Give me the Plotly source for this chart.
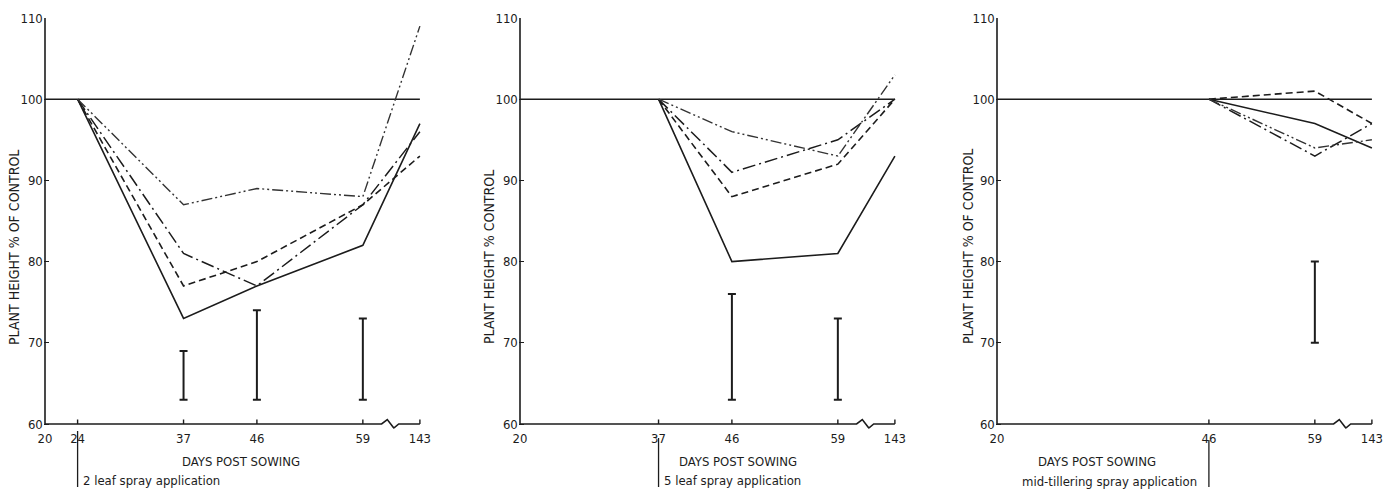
import plotly.graph_objects as go

# ---------------- data ----------------
# x positions: days 20..59 on a linear scale; "143" is drawn after an axis break
BREAK_POS = 66          # axis position used for day 143 (after the break)
tick_days_1 = [20, 24, 37, 46, 59, 143]
tick_days_2 = [20, 37, 46, 59, 143]
tick_days_3 = [20, 46, 59, 143]

control_days = [20, 143]
control_vals = [100, 100]

# Panel 1: 2 leaf spray application (day 24)
days_1 = [24, 37, 46, 59, 143]
p1_solid = [100, 73, 77, 82, 97]
p1_dash = [100, 77, 80, 87, 93]
p1_dashdot = [100, 81, 77, 87, 96]
p1_dashdotdot = [100, 87, 89, 88, 109]
lsd1_days = [37, 46, 59]
lsd1_low = [63, 63, 63]
lsd1_high = [69, 74, 73]

# Panel 2: 5 leaf spray application (day 37)
days_2 = [37, 46, 59, 143]
p2_solid = [100, 80, 81, 93]
p2_dash = [100, 88, 92, 100]
p2_dashdot = [100, 91, 95, 100]
p2_dashdotdot = [100, 96, 93, 103]
lsd2_days = [46, 59]
lsd2_low = [63, 63]
lsd2_high = [76, 73]

# Panel 3: mid-tillering spray application (day 46)
days_3 = [46, 59, 143]
p3_solid = [100, 97, 94]
p3_dash = [100, 101, 97]
p3_dashdot = [100, 93, 97]
p3_dashdotdot = [100, 94, 95]
lsd3_days = [59]
lsd3_low = [70]
lsd3_high = [80]

y_ticks = [60, 70, 80, 90, 100, 110]

spray_day = [24, 37, 46]
spray_text = ["2 leaf spray application", "5 leaf spray application",
              "mid-tillering spray application"]
y_titles = ["PLANT HEIGHT % OF CONTROL", "PLANT HEIGHT % CONTROL",
            "PLANT HEIGHT % OF CONTROL"]
x_title = "DAYS POST SOWING"


def pos(d):
    return BREAK_POS if d == 143 else d


def posl(lst):
    return [pos(d) for d in lst]


# ---------------- styling ----------------
INK = "#1c1c1c"
FONT = "DejaVu Sans Condensed, DejaVu Sans, Liberation Sans, sans-serif"
W, H = 1395, 489
STYLES = {
    "solid": dict(dash="solid", width=1.6, color=INK),
    "dash": dict(dash="7px,4px", width=1.6, color=INK),
    "dashdot": dict(dash="13px,4px,2px,4px", width=1.5, color=INK),
    "dashdotdot": dict(dash="11px,3px,2px,3px,2px,3px", width=1.4, color="#333333"),
}

# pixel geometry
px_per_day = 8.15
y_top_px, y60_px = 18, 424
px_per_unit = (y60_px - y_top_px) / 50.0
Y_MIN = 59.4
X_MIN, X_MAX = 19.85, 66.2
y_bottom_px = y60_px + (60 - Y_MIN) * px_per_unit
ydom = [(H - y_bottom_px) / H, (H - y_top_px) / H]
x20_px = [45, 520, 997]

fig = go.Figure()
panels = [
    (days_1, [p1_solid, p1_dash, p1_dashdot, p1_dashdotdot], lsd1_days, lsd1_low, lsd1_high, tick_days_1),
    (days_2, [p2_solid, p2_dash, p2_dashdot, p2_dashdotdot], lsd2_days, lsd2_low, lsd2_high, tick_days_2),
    (days_3, [p3_solid, p3_dash, p3_dashdot, p3_dashdotdot], lsd3_days, lsd3_low, lsd3_high, tick_days_3),
]
style_keys = ["solid", "dash", "dashdot", "dashdotdot"]

for i, (days, series, ldays, llow, lhigh, tdays) in enumerate(panels):
    n = "" if i == 0 else str(i + 1)
    xa, ya = "x" + n, "y" + n
    # axis frame (left axis line, bottom axis with break zigzag)
    fig.add_trace(go.Scatter(x=[20, 20], y=[60, 110], mode="lines",
                             line=dict(color=INK, width=1.6), xaxis=xa, yaxis=ya,
                             showlegend=False, hoverinfo="skip"))
    zz_x = [20, 61.3, 62.0, 62.8, 63.4, BREAK_POS]
    zz_y = [60, 60, 60.55, 59.5, 60, 60]
    fig.add_trace(go.Scatter(x=zz_x, y=zz_y, mode="lines",
                             line=dict(color=INK, width=1.6), xaxis=xa, yaxis=ya,
                             showlegend=False, hoverinfo="skip"))
    # x ticks pointing up
    tx, ty = [], []
    for d in tdays[1:]:
        tx += [pos(d), pos(d), None]
        ty += [60, 60.55, None]
    fig.add_trace(go.Scatter(x=tx, y=ty, mode="lines", line=dict(color=INK, width=1.4),
                             xaxis=xa, yaxis=ya, showlegend=False, hoverinfo="skip"))
    # control line
    fig.add_trace(go.Scatter(x=posl(control_days), y=control_vals, mode="lines",
                             line=dict(color=INK, width=1.6), xaxis=xa, yaxis=ya,
                             showlegend=False))
    # treatment series
    for key, vals in zip(style_keys, series):
        fig.add_trace(go.Scatter(x=posl(days), y=vals, mode="lines",
                                 line=STYLES[key], xaxis=xa, yaxis=ya, showlegend=False))
    # LSD bars
    mid = [(a + b) / 2 for a, b in zip(llow, lhigh)]
    half = [(b - a) / 2 for a, b in zip(llow, lhigh)]
    fig.add_trace(go.Scatter(x=ldays, y=mid, mode="markers",
                             marker=dict(size=1, color="rgba(0,0,0,0)"),
                             error_y=dict(type="data", array=half, visible=True,
                                          color=INK, thickness=2, width=4),
                             xaxis=xa, yaxis=ya, showlegend=False))

    x0 = x20_px[i] - (20 - X_MIN) * px_per_day
    x1 = x20_px[i] + (X_MAX - 20) * px_per_day
    fig.layout["xaxis" + n] = dict(
        domain=[x0 / W, x1 / W], range=[X_MIN, X_MAX], anchor=ya, automargin=False,
        showgrid=False, zeroline=False, showline=False, ticks="",
        tickvals=posl(tdays), ticktext=[str(d) for d in tdays],
        tickfont=dict(family=FONT, size=13, color=INK),
    )
    fig.layout["yaxis" + n] = dict(
        domain=ydom, range=[Y_MIN, 110], anchor=xa, automargin=False,
        showgrid=False, zeroline=False, showline=False,
        ticks="inside", ticklen=5, tickwidth=1.4, tickcolor=INK,
        tickvals=y_ticks, ticktext=[str(v) for v in y_ticks],
        tickfont=dict(family=FONT, size=13, color=INK),
    )

    # spray marker line below axis
    fig.add_shape(type="line", xref=xa, yref="paper",
                  x0=spray_day[i], x1=spray_day[i],
                  y0=(H - [431, 438, 440][i]) / H, y1=(H - 487) / H,
                  line=dict(color=INK, width=1.3))

# annotations: titles
title_x = [241, 738, 1097]
ytitle_pos = [(14, 248), (489, 257), (968, 247)]
for i in range(3):
    fig.add_annotation(text=x_title, xref="paper", yref="paper",
                       x=title_x[i] / W, y=(H - 461) / H, showarrow=False,
                       xanchor="center", yanchor="middle",
                       font=dict(family=FONT, size=13, color=INK))
    fig.add_annotation(text=y_titles[i], xref="paper", yref="paper",
                       x=ytitle_pos[i][0] / W, y=(H - ytitle_pos[i][1]) / H,
                       showarrow=False, textangle=-90, xanchor="center", yanchor="middle",
                       font=dict(family=FONT, size=14, color=INK))

fig.add_annotation(text=spray_text[0], xref="x", yref="paper", x=spray_day[0], y=(H - 480) / H,
                   xshift=3, showarrow=False, xanchor="left", yanchor="middle",
                   font=dict(family=FONT, size=13, color=INK))
fig.add_annotation(text=spray_text[1], xref="x2", yref="paper", x=spray_day[1], y=(H - 480) / H,
                   xshift=3, showarrow=False, xanchor="left", yanchor="middle",
                   font=dict(family=FONT, size=13, color=INK))
fig.add_annotation(text=spray_text[2], xref="x3", yref="paper", x=spray_day[2], y=(H - 481) / H,
                   xshift=-10, showarrow=False, xanchor="right", yanchor="middle",
                   font=dict(family=FONT, size=13, color=INK))

fig.update_layout(
    width=W, height=H, margin=dict(l=0, r=0, t=0, b=0),
    paper_bgcolor="white", plot_bgcolor="white", showlegend=False,
)

fig.write_html("out.html")
